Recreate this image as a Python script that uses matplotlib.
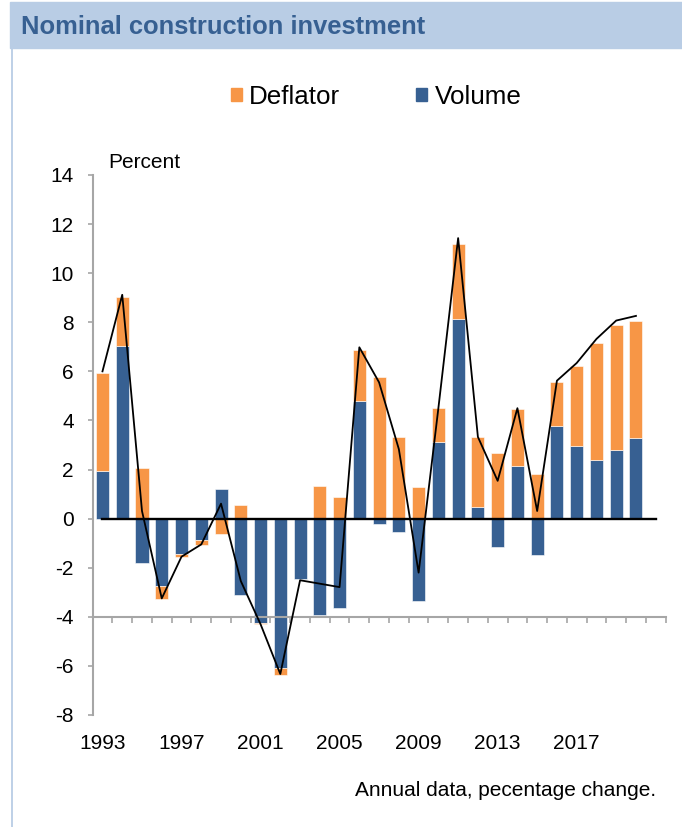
import numpy as np
import matplotlib
matplotlib.use("Agg")
import matplotlib.pyplot as plt
from matplotlib.patches import Rectangle, Patch
from matplotlib.lines import Line2D

plt.rcParams['font.family'] = ['Liberation Sans', 'DejaVu Sans']
plt.rcParams['axes.unicode_minus'] = False

# categories (2021 is an empty slot at the right end of the axis)
years = list(range(1993, 2022))
label_years = [1993, 1997, 2001, 2005, 2009, 2013, 2017]

# annual percentage change, 1993-2020
volume = [1.95, 7.02, -1.80, -2.75, -1.45, -0.88, 1.20, -3.13, -4.24, -6.10,
          -2.47, -3.93, -3.66, 4.78, -0.23, -0.54, -3.37, 3.13, 8.14, 0.48,
          -1.16, 2.14, -1.48, 3.78, 2.94, 2.40, 2.79, 3.27]
deflator = [3.97, 2.00, 2.08, -0.53, -0.10, -0.21, -0.61, 0.55, -0.07, -0.25,
            0.00, 1.35, 0.90, 2.11, 5.77, 3.33, 1.28, 1.39, 3.04, 2.85,
            2.67, 2.31, 1.82, 1.80, 3.29, 4.76, 5.09, 4.80]
nominal = [6.00, 9.12, 0.31, -3.25, -1.55, -1.05, 0.61, -2.54, -4.30, -6.33,
           -2.51, -2.65, -2.79, 6.98, 5.55, 2.83, -2.20, 4.50, 11.43, 3.33,
           1.54, 4.50, 0.31, 5.62, 6.34, 7.32, 8.07, 8.26]

blue = '#376092'
orange = '#F79646'
band = '#B9CDE5'
gray = '#A6A6A6'

W, H = 682, 827
fig = plt.figure(figsize=(W / 100, H / 100), dpi=100)

# header band and left border
fig.patches.append(Rectangle((10 / W, 1 - 47.7 / H), 672 / W, 45.7 / H,
                             transform=fig.transFigure, color=band, zorder=0))
fig.add_artist(Line2D([11.5 / W, 11.5 / W], [0, 1 - 47.7 / H], color=band, lw=1.3))
fig.text(21 / W, 1 - 26.5 / H, 'Nominal construction investment', fontsize=18.4,
         fontweight='bold', color=blue, va='center')

ax = fig.add_axes([92.6 / W, (H - 715) / H, 573 / W, 540 / H])

x = np.arange(len(volume))
vol = np.array(volume)
dfl = np.array(deflator)
# Excel-style stacking: same-sign parts stack, opposite signs start at zero
bottom = np.where(np.sign(dfl) == np.sign(vol), vol, 0)

ax.bar(x, vol, width=0.66, color=blue, edgecolor='#FFFFFF', linewidth=0.4, zorder=2)
ax.bar(x, dfl, bottom=bottom, width=0.66, color=orange, edgecolor='#FFFFFF',
       linewidth=0.4, zorder=2)
ax.plot(np.arange(len(years)), np.zeros(len(years)), color='black', lw=1.7, zorder=3)
ax.plot(x, nominal, color='black', lw=1.3, zorder=4)

ax.set_xlim(-0.5, len(years) - 0.5)
ax.set_ylim(-8, 14)
ax.set_yticks(np.arange(-8, 15, 2))

for s in ['top', 'right']:
    ax.spines[s].set_visible(False)
ax.spines['left'].set_color(gray)
ax.spines['left'].set_linewidth(1.5)
ax.spines['bottom'].set_position(('data', -4))
ax.spines['bottom'].set_color(gray)
ax.spines['bottom'].set_linewidth(1.5)

ax.set_xticks(np.arange(len(years) + 1) - 0.5)
ax.set_xticklabels([])
ax.tick_params(axis='x', direction='out', length=4.5, width=1.2, color=gray)
ax.tick_params(axis='y', direction='out', length=3.6, width=1.2, color=gray,
               pad=10, labelsize=15)

sec = ax.secondary_xaxis('bottom')
sec.set_xticks([years.index(y) for y in label_years],
               labels=[str(y) for y in label_years])
sec.tick_params(length=0, pad=14, labelsize=15)
sec.spines['bottom'].set_visible(False)

handles = [Patch(color=orange, label='Deflator'), Patch(color=blue, label='Volume')]
fig.legend(handles=handles, loc='center', bbox_to_anchor=(376 / W, 1 - 97 / H),
           ncol=2, frameon=False, fontsize=18.7, handlelength=0.42,
           handleheight=0.42, handletextpad=0.3, columnspacing=2.9)

fig.text(108 / W, 1 - 162 / H, 'Percent', fontsize=15, va='center')
fig.text(656 / W, 1 - 790 / H, 'Annual data, pecentage change.', fontsize=15,
         ha='right', va='center')

fig.savefig('out.png', dpi=100)
